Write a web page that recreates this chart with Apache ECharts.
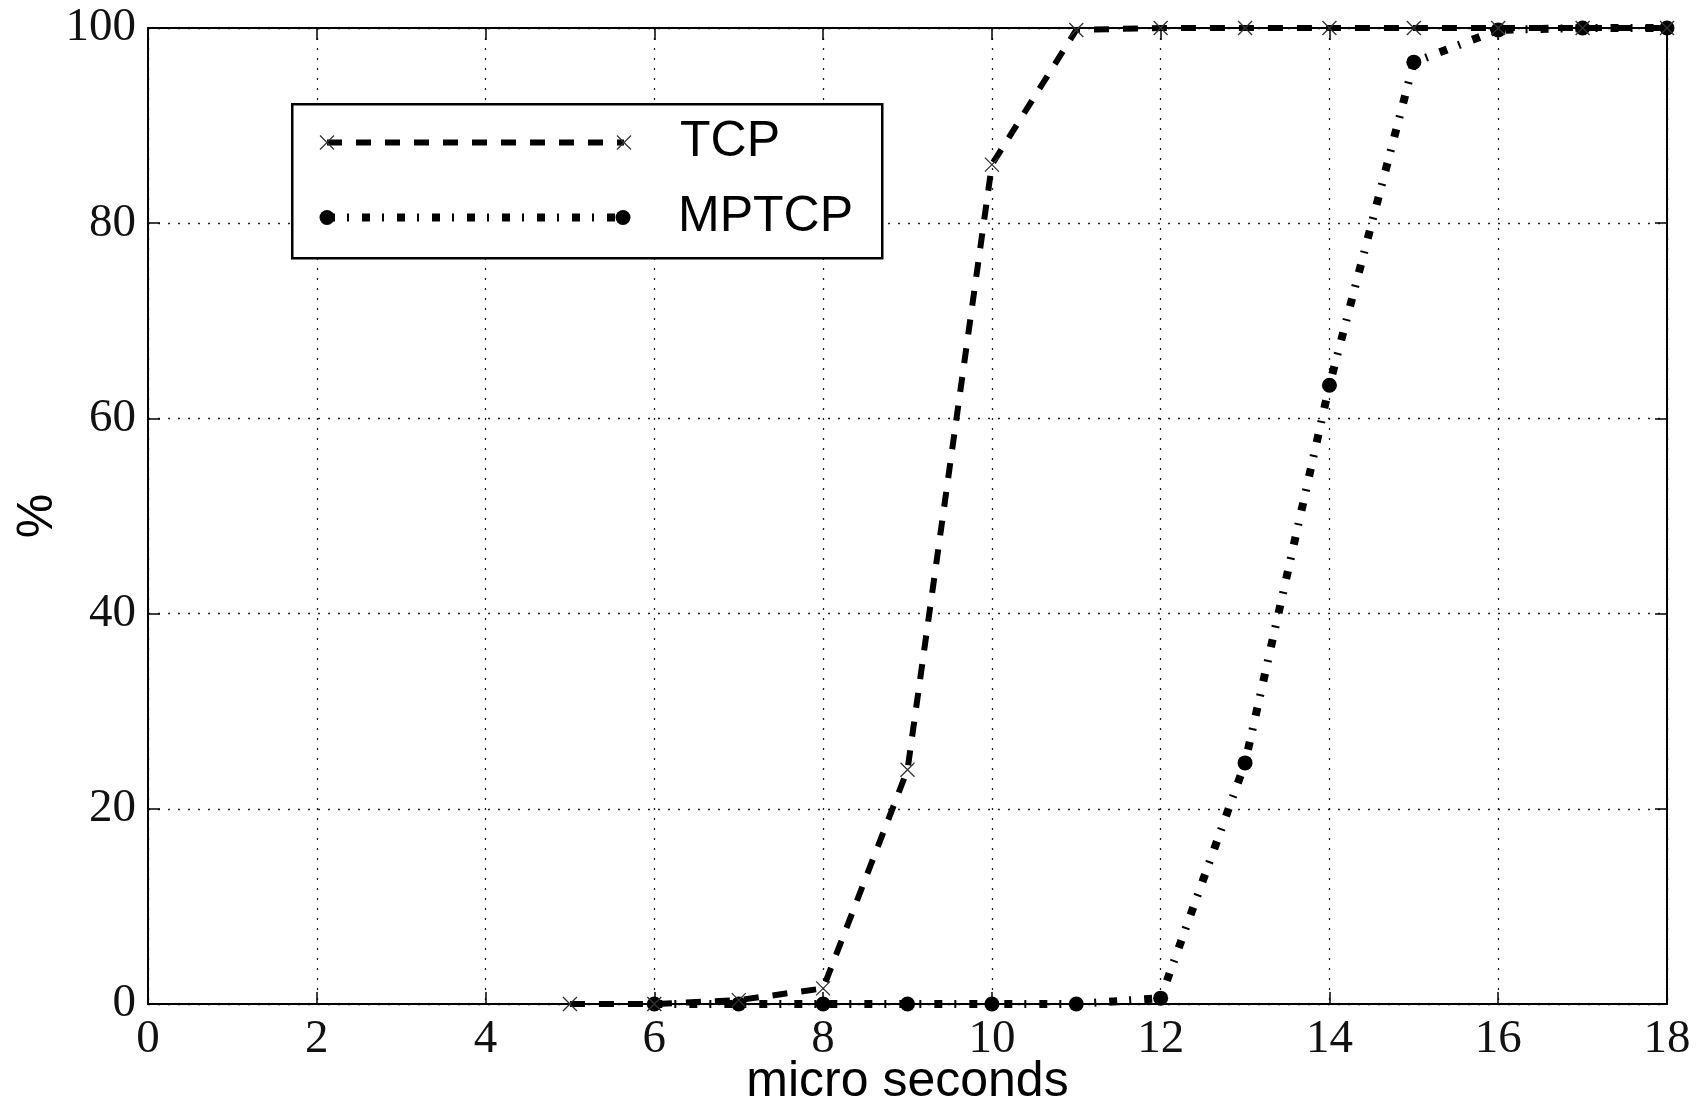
<!DOCTYPE html>
<html>
<head>
<meta charset="utf-8">
<script src="https://cdn.jsdelivr.net/npm/echarts@6/dist/echarts.min.js"></script>
<style>
html,body{margin:0;padding:0;background:#fff;}
#chart{width:1702px;height:1107px;}
</style>
</head>
<body>
<div id="chart"></div>
<script>
// ---- data ----
const xTicks = [0, 2, 4, 6, 8, 10, 12, 14, 16, 18];
const yTicks = [0, 20, 40, 60, 80, 100];
const tcpX = [5, 6, 7, 8, 9, 10, 11, 12, 13, 14, 15, 16, 17, 18];
const tcpY = [0, 0, 0.4, 1.6, 24, 86, 99.8, 100, 100, 100, 100, 100, 100, 100];
const mptcpX = [6, 7, 8, 9, 10, 11, 12, 13, 14, 15, 16, 17, 18];
const mptcpY = [0, 0, 0, 0, 0, 0, 0.6, 24.7, 63.4, 96.5, 99.8, 100, 100];
const seriesNames = ['TCP', 'MPTCP'];
const xName = 'micro seconds';
const yName = '%';

const zip = (xs, ys) => xs.map((x, i) => [x, ys[i]]);
const crossPath = 'path://M0,0L10,10M10,0L0,10';
const serif = 'Liberation Serif';
const sans = 'Liberation Sans';

const chart = echarts.init(document.getElementById('chart'), null, {renderer: 'canvas'});

const tcpDash = [15, 14];
const mpDash = [8, 12, 2, 13];

const baseX = {
  type: 'value', min: xTicks[0], max: xTicks[xTicks.length - 1], interval: 2
};
const baseY = {
  type: 'value', min: yTicks[0], max: yTicks[yTicks.length - 1], interval: 20
};

const option = {
  animation: false,
  backgroundColor: '#fff',
  grid: {left: 148, top: 28, right: 35, bottom: 103, containLabel: false, outerBoundsMode: 'none'},
  xAxis: [
    Object.assign({}, baseX, {
      position: 'bottom',
      axisLine: {show: true, onZero: false, lineStyle: {color: '#000', width: 2}},
      axisTick: {show: true, inside: true, length: 12, lineStyle: {color: '#000', width: 1.5}},
      axisLabel: {show: true, margin: 12, fontSize: 47, fontFamily: serif, color: '#111'},
      splitLine: {show: true, lineStyle: {color: '#222', width: 1.3, type: [2, 8]}},
      name: xName, nameLocation: 'middle', nameGap: 53, nameMoveOverlap: false,
      nameTextStyle: {fontSize: 50, fontFamily: sans, color: '#000'}
    }),
    Object.assign({}, baseX, {
      position: 'top',
      axisLine: {show: true, onZero: false, lineStyle: {color: '#000', width: 2}},
      axisTick: {show: true, inside: true, length: 12, lineStyle: {color: '#000', width: 1.5}},
      axisLabel: {show: false},
      splitLine: {show: false}
    })
  ],
  yAxis: [
    Object.assign({}, baseY, {
      position: 'left',
      axisLine: {show: true, onZero: false, lineStyle: {color: '#000', width: 2}},
      axisTick: {show: true, inside: true, length: 12, lineStyle: {color: '#000', width: 1.5}},
      axisLabel: {show: true, margin: 12, fontSize: 47, fontFamily: serif, color: '#111'},
      splitLine: {show: true, lineStyle: {color: '#222', width: 1.3, type: [2, 8]}},
      name: yName, nameLocation: 'middle', nameGap: 85, nameRotate: 90, nameMoveOverlap: false,
      nameTextStyle: {fontSize: 50, fontFamily: sans, color: '#000'}
    }),
    Object.assign({}, baseY, {
      position: 'right',
      axisLine: {show: true, onZero: false, lineStyle: {color: '#000', width: 2}},
      axisTick: {show: true, inside: true, length: 12, lineStyle: {color: '#000', width: 1.5}},
      axisLabel: {show: false},
      splitLine: {show: false}
    })
  ],
  series: [
    {
      name: seriesNames[0], type: 'line', xAxisIndex: 0, yAxisIndex: 0,
      data: zip(tcpX, tcpY), clip: false, z: 5,
      symbol: crossPath, symbolSize: 14, showAllSymbol: true,
      itemStyle: {color: 'none', borderColor: '#333', borderWidth: 1.3},
      lineStyle: {color: '#000', width: 6, type: tcpDash, cap: 'butt'}
    },
    {
      name: seriesNames[1], type: 'line', xAxisIndex: 0, yAxisIndex: 0,
      data: zip(mptcpX, mptcpY), clip: false, z: 4,
      symbol: 'circle', symbolSize: 15, showAllSymbol: true,
      itemStyle: {color: '#000', borderWidth: 0},
      lineStyle: {color: '#000', width: 8, type: mpDash, cap: 'butt'}
    }
  ],
  graphic: [
    {type: 'rect', left: 291, top: 103, z: 50,
     shape: {x: 0, y: 0, width: 590, height: 154},
     style: {fill: '#fff', stroke: '#000', lineWidth: 2.5}},
    {type: 'line', z: 51, shape: {x1: 327, y1: 142.5, x2: 624, y2: 142.5},
     style: {stroke: '#000', lineWidth: 6, lineDash: tcpDash, lineCap: 'butt'}},
    {type: 'polyline', z: 52, shape: {points: [[320, 135.5], [334, 149.5]]}, style: {stroke: '#333', lineWidth: 1.3, fill: null}},
    {type: 'polyline', z: 52, shape: {points: [[334, 135.5], [320, 149.5]]}, style: {stroke: '#333', lineWidth: 1.3, fill: null}},
    {type: 'polyline', z: 52, shape: {points: [[617, 135.5], [631, 149.5]]}, style: {stroke: '#333', lineWidth: 1.3, fill: null}},
    {type: 'polyline', z: 52, shape: {points: [[631, 135.5], [617, 149.5]]}, style: {stroke: '#333', lineWidth: 1.3, fill: null}},
    {type: 'text', z: 52, style: {text: seriesNames[0], x: 680, y: 142, verticalAlign: 'middle', font: '50px "Liberation Sans"', fill: '#000'}},
    {type: 'line', z: 51, shape: {x1: 327, y1: 217.5, x2: 623, y2: 217.5},
     style: {stroke: '#000', lineWidth: 8, lineDash: mpDash, lineCap: 'butt'}},
    {type: 'circle', z: 52, shape: {cx: 327, cy: 217.5, r: 7.5}, style: {fill: '#000'}},
    {type: 'circle', z: 52, shape: {cx: 623, cy: 217.5, r: 7.5}, style: {fill: '#000'}},
    {type: 'text', z: 52, style: {text: seriesNames[1], x: 678, y: 217, verticalAlign: 'middle', font: '50px "Liberation Sans"', fill: '#000'}}
  ]
};
chart.setOption(option);
</script>
</body>
</html>
